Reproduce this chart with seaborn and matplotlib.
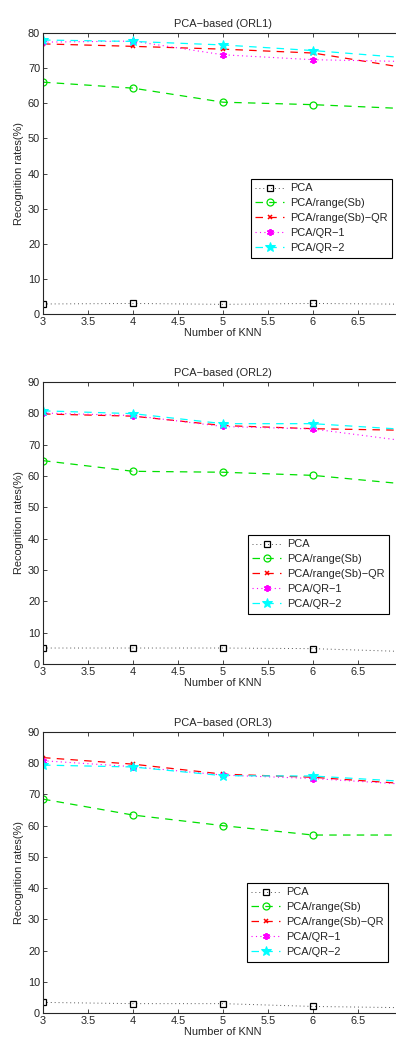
import numpy as np
import pandas as pd
import matplotlib
matplotlib.use("Agg")
import matplotlib.pyplot as plt
import seaborn as sns

knn = [3, 4, 5, 6, 7]
series_names = ["PCA", "PCA/range(Sb)", "PCA/range(Sb)−QR", "PCA/QR−1", "PCA/QR−2"]
titles = ["PCA−based (ORL1)", "PCA−based (ORL2)", "PCA−based (ORL3)"]
ylims = [80, 90, 90]

orl1_pca = [2.85, 3.0, 2.75, 3.0, 2.8]
orl1_range = [66.0, 64.3, 60.3, 59.6, 58.5]
orl1_rangeqr = [76.9, 76.2, 75.4, 74.3, 70.2]
orl1_qr1 = [77.4, 77.7, 73.8, 72.4, 71.9]
orl1_qr2 = [78.0, 77.6, 76.6, 75.0, 73.0]

orl2_pca = [5.1, 5.1, 5.1, 4.9, 4.0]
orl2_range = [64.9, 61.5, 61.2, 60.2, 57.5]
orl2_rangeqr = [79.8, 79.1, 76.1, 75.1, 74.6]
orl2_qr1 = [80.1, 79.3, 75.8, 75.0, 71.3]
orl2_qr2 = [80.8, 79.9, 76.7, 76.7, 74.9]

orl3_pca = [3.4, 3.0, 3.0, 2.1, 1.7]
orl3_range = [68.5, 63.4, 60.0, 57.0, 57.0]
orl3_rangeqr = [81.8, 79.7, 76.5, 75.5, 73.5]
orl3_qr1 = [80.8, 78.9, 76.2, 75.1, 73.3]
orl3_qr2 = [79.4, 78.8, 76.0, 75.9, 74.2]

panels = [
    [orl1_pca, orl1_range, orl1_rangeqr, orl1_qr1, orl1_qr2],
    [orl2_pca, orl2_range, orl2_rangeqr, orl2_qr1, orl2_qr2],
    [orl3_pca, orl3_range, orl3_rangeqr, orl3_qr1, orl3_qr2],
]

sns.set_style("ticks")
plt.rcParams["font.family"] = ["Liberation Sans", "DejaVu Sans"]
plt.rcParams["xtick.direction"] = "in"
plt.rcParams["ytick.direction"] = "in"

styles = [
    dict(color="#555555", linestyle=(0, (1, 3)), marker="s", mfc="none", mec="black", ms=4, mew=0.9, lw=0.7),
    dict(color="#00e000", linestyle=(0, (6, 5)), marker="o", mfc="none", mec="#00e000", ms=5, mew=0.9, lw=0.9),
    dict(color="red", linestyle=(0, (6, 5)), marker="x", mec="red", ms=3.5, mew=1.1, lw=0.9),
    dict(color="magenta", linestyle=(0, (1, 3)), marker=(6, 2, 0), mec="magenta", ms=5, mew=1.3, lw=0.8),
    dict(color="cyan", linestyle=(0, (6, 5)), marker="*", mfc="cyan", mec="cyan", ms=7, lw=0.9),
]

FS = 7.9
W, H = 396, 1039
fig = plt.figure(figsize=(W / 100, H / 100), dpi=100)

axes_px = [(33, 314), (382, 664), (732, 1013)]
legend_px = [(251, 179), (248, 535), (247, 883)]
left_px = 43
width_px = 360

for i, (top, bot) in enumerate(axes_px):
    ax = fig.add_axes([left_px / W, 1 - bot / H, width_px / W, (bot - top) / H])
    for name, vals, st in zip(series_names, panels[i], styles):
        df = pd.DataFrame({"knn": knn, "rate": vals})
        sns.lineplot(data=df, x="knn", y="rate", ax=ax, label=name,
                     markevery=[0, 1, 2, 3], **st)
    ax.set_xlim(3, 7)
    ax.set_ylim(0, ylims[i])
    ax.set_xticks([3, 3.5, 4, 4.5, 5, 5.5, 6, 6.5])
    ax.set_xticklabels(["3", "3.5", "4", "4.5", "5", "5.5", "6", "6.5"])
    ax.set_yticks(np.arange(0, ylims[i] + 1, 10))
    ax.tick_params(top=True, right=True, labelsize=FS, length=3, width=0.6, pad=2)
    for s in ax.spines.values():
        s.set_linewidth(0.8)
    ax.set_title(titles[i], fontsize=FS, pad=4)
    ax.set_xlabel("Number of KNN", fontsize=FS, labelpad=1)
    ax.set_ylabel("Recognition rates(%)", fontsize=FS, labelpad=3)
    lx, ly = legend_px[i]
    leg = ax.legend(loc="upper left", bbox_to_anchor=(lx / W, 1 - ly / H),
                    bbox_transform=fig.transFigure, borderaxespad=0,
                    fancybox=False, framealpha=1, edgecolor="black",
                    fontsize=FS, handlelength=2.6, handletextpad=0.6,
                    labelspacing=0.45, borderpad=0.4)
    leg.get_frame().set_linewidth(0.8)

fig.savefig("out.png", dpi=100)
